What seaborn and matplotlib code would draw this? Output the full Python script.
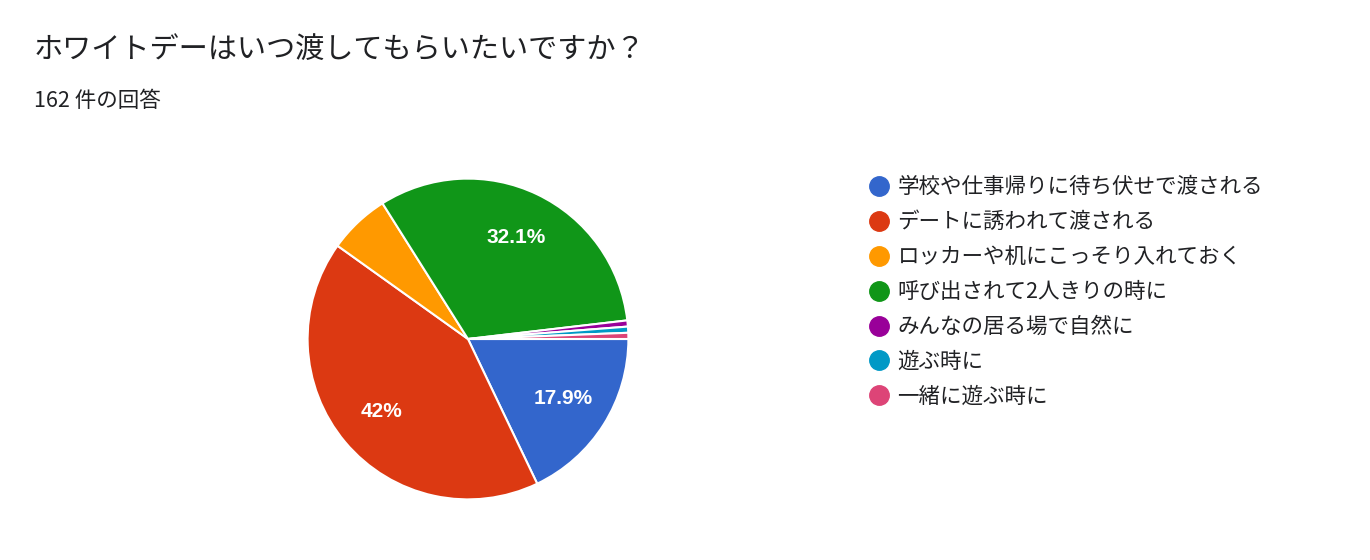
import matplotlib
matplotlib.use("Agg")
import matplotlib.pyplot as plt
from matplotlib.lines import Line2D
import seaborn as sns

# survey answers (162 responses)
labels = [
    "学校や仕事帰りに待ち伏せで渡される",
    "デートに誘われて渡される",
    "ロッカーや机にこっそり入れておく",
    "呼び出されて2人きりの時に",
    "みんなの居る場で自然に",
    "遊ぶ時に",
    "一緒に遊ぶ時に",
]
counts = [29, 68, 10, 52, 1, 1, 1]
colors = ["#3366cc", "#dc3912", "#ff9900", "#109618", "#990099", "#0099c6", "#dd4477"]

title = "ホワイトデーはいつ渡してもらいたいですか？"
subtitle = "162 件の回答"

sns.set_theme(style="white")
plt.rcParams['font.family'] = ['Noto Sans CJK JP', 'DejaVu Sans']

W, H = 1370, 560
fig = plt.figure(figsize=(W / 100, H / 100), dpi=100)

fig.text(34 / W, 1 - 50 / H, title, fontsize=21, color="#202124", va="center")
fig.text(34 / W, 1 - 101 / H, subtitle, fontsize=15.5, color="#202124", va="center")

# pie axes: centre (468, 339), radius 162 px
cx, cy, r = 468, 339, 162
ax = fig.add_axes([(cx - r) / W, (H - cy - r) / H, 2 * r / W, 2 * r / H])


def fmt_pct(p):
    if p < 10:
        return ""
    return f"{p:.1f}".rstrip("0").rstrip(".") + "%"


wedges, _, autotexts = ax.pie(
    counts, colors=colors, startangle=0, counterclock=False,
    autopct=fmt_pct, pctdistance=0.7,
    wedgeprops=dict(edgecolor="white", linewidth=1.5),
    textprops=dict(color="white", fontsize=15, fontweight="bold",
                   family=["Liberation Sans", "DejaVu Sans"]),
)
ax.set_xlim(-1.01, 1.01)
ax.set_ylim(-1.01, 1.01)
ax.set_aspect("equal")
ax.axis("off")

handles = [Line2D([0], [0], marker="o", linestyle="", markersize=14,
                  markerfacecolor=c, markeredgecolor=c) for c in colors]
fig.legend(handles, labels, loc="upper left", bbox_to_anchor=(847 / W, 1 - 157 / H),
           frameon=False, fontsize=15.5, labelspacing=0.6, handletextpad=0.25,
           handlelength=1.2, labelcolor="#202124")

fig.savefig("out.png", dpi=100, facecolor="white")
